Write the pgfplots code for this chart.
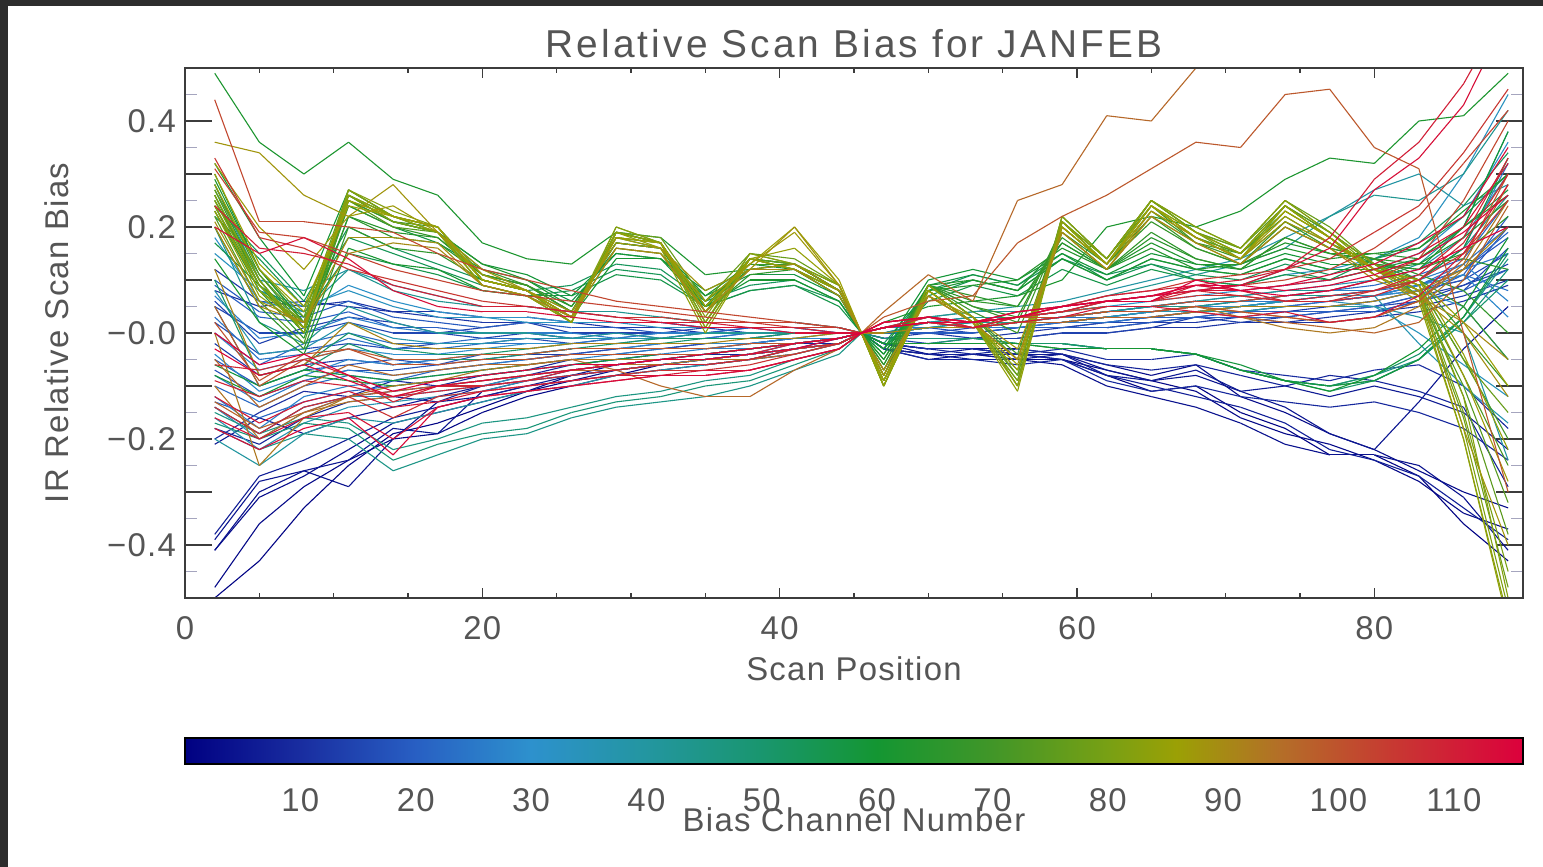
\documentclass[border=0pt]{standalone}
\usepackage{fontspec}
\setmainfont{Liberation Sans}[LetterSpace=4]
\newfontfamily\titlefont{Liberation Sans}[LetterSpace=8]
\usepackage{pgfplots}
\usepackage{pgfplotstable}
\pgfplotsset{compat=1.18}
\definecolor{txtgray}{RGB}{85,85,85}
\definecolor{axgray}{RGB}{60,60,60}
\definecolor{mintick}{RGB}{165,165,190}
\definecolor{bgdark}{RGB}{45,45,45}
\pgfplotsset{
  /pgf/number format/assume math mode=true,
  colormap={scanbias}{rgb255(0cm)=(0,0,130) rgb255(10cm)=(25,45,160) rgb255(20cm)=(40,95,195) rgb255(30cm)=(45,145,205) rgb255(40cm)=(35,150,160) rgb255(50cm)=(25,150,110) rgb255(60cm)=(20,150,50) rgb255(70cm)=(65,150,40) rgb255(80cm)=(120,160,20) rgb255(86cm)=(155,160,5) rgb255(95cm)=(180,110,40) rgb255(105cm)=(200,55,50) rgb255(116cm)=(220,0,60)},
}
\pgfplotstableread{
ch 2 5 8 11 14 17 20 23 26 29 32 35 38 41 44 45.5 47 50 53 56 59 62 65 68 71 74 77 80 83 86 89
c1 -0.50 -0.43 -0.33 -0.25 -0.19 -0.17 -0.14 -0.11 -0.09 -0.08 -0.06 -0.05 -0.05 -0.03 -0.02 0 -0.02 -0.03 -0.03 -0.04 -0.05 -0.08 -0.11 -0.10 -0.15 -0.18 -0.23 -0.23 -0.27 -0.36 -0.43
c2 -0.48 -0.36 -0.29 -0.24 -0.20 -0.19 -0.15 -0.12 -0.10 -0.08 -0.07 -0.06 -0.05 -0.04 -0.02 0 -0.03 -0.04 -0.04 -0.05 -0.05 -0.07 -0.09 -0.11 -0.16 -0.19 -0.21 -0.24 -0.28 -0.34 -0.37
c3 -0.41 -0.31 -0.27 -0.22 -0.17 -0.15 -0.13 -0.11 -0.08 -0.07 -0.06 -0.05 -0.04 -0.03 -0.02 0 -0.02 -0.03 -0.03 -0.03 -0.04 -0.06 -0.08 -0.06 -0.12 -0.15 -0.19 -0.22 -0.26 -0.30 -0.33
c4 -0.41 -0.30 -0.26 -0.29 -0.20 -0.13 -0.12 -0.10 -0.09 -0.07 -0.06 -0.06 -0.05 -0.03 -0.02 0 -0.03 -0.05 -0.04 -0.05 -0.06 -0.10 -0.12 -0.14 -0.17 -0.21 -0.23 -0.23 -0.25 -0.31 -0.41
c5 -0.39 -0.28 -0.26 -0.24 -0.18 -0.19 -0.11 -0.09 -0.08 -0.06 -0.05 -0.05 -0.04 -0.03 -0.01 0 -0.02 -0.04 -0.03 -0.04 -0.04 -0.07 -0.09 -0.08 -0.11 -0.14 -0.19 -0.22 -0.13 -0.03 0.05
c6 -0.21 -0.16 -0.19 -0.16 -0.14 -0.12 -0.10 -0.09 -0.07 -0.06 -0.05 -0.05 -0.04 -0.03 -0.02 0 -0.03 -0.04 -0.05 -0.05 -0.04 -0.08 -0.09 -0.07 -0.11 -0.10 -0.12 -0.10 -0.12 -0.15 -0.22
c7 -0.38 -0.27 -0.24 -0.20 -0.16 -0.14 -0.12 -0.10 -0.08 -0.07 -0.06 -0.05 -0.04 -0.03 -0.02 0 -0.03 -0.04 -0.04 -0.04 -0.05 -0.08 -0.10 -0.12 -0.14 -0.17 -0.22 -0.24 -0.27 -0.33 -0.39
c8 -0.18 -0.21 -0.16 -0.13 -0.12 -0.13 -0.10 -0.08 -0.07 -0.06 -0.05 -0.04 -0.04 -0.02 -0.02 0 -0.02 -0.03 -0.04 -0.03 -0.04 -0.06 -0.07 -0.06 -0.08 -0.10 -0.08 -0.09 -0.11 -0.14 -0.29
c9 -0.14 -0.19 -0.14 -0.12 -0.11 -0.10 -0.09 -0.08 -0.06 -0.05 -0.05 -0.04 -0.03 -0.02 -0.01 0 -0.03 -0.05 -0.05 -0.06 -0.05 -0.09 -0.11 -0.10 -0.12 -0.13 -0.14 -0.13 -0.15 -0.18 -0.24
c10 -0.20 -0.15 -0.11 -0.12 -0.09 -0.10 -0.08 -0.07 -0.05 -0.05 -0.04 -0.04 -0.03 -0.02 -0.01 0 -0.02 -0.03 -0.03 -0.04 -0.03 -0.05 -0.05 -0.04 -0.07 -0.08 -0.09 -0.07 -0.06 -0.10 -0.18
c11 0.08 0.05 0.06 0.05 0.04 0.04 0.03 0.03 0.02 0.02 0.02 0.01 0.01 0.01 0.00 0 -0.01 -0.01 -0.01 -0.01 0.00 0.00 0.01 0.01 0.02 0.02 0.02 0.03 0.04 0.06 0.09
c12 0.12 0.06 0.05 0.06 0.04 0.03 0.02 0.02 0.02 0.01 0.01 0.00 0.01 0.01 0.01 0 -0.01 0.00 -0.01 0.00 0.01 0.01 0.02 0.02 0.03 0.02 0.03 0.04 0.05 0.07 0.10
c13 -0.02 -0.08 -0.06 -0.05 -0.06 -0.05 -0.05 -0.04 -0.04 -0.03 -0.03 -0.02 -0.02 -0.01 -0.01 0 0.00 0.00 0.00 0.01 0.01 0.02 0.03 0.03 0.04 0.04 0.05 0.05 0.07 0.09 0.13
c14 0.06 -0.02 0.01 0.03 0.02 0.00 0.01 0.02 0.00 0.00 0.00 0.01 0.00 0.00 0.00 0 -0.01 -0.02 -0.01 -0.01 0.00 0.00 0.01 0.03 0.02 0.03 0.04 0.04 0.06 0.09 0.12
c15 0.05 0.00 0.00 0.02 0.00 0.00 -0.01 0.00 -0.01 -0.01 -0.01 0.00 0.00 0.00 0.00 0 0.00 0.00 0.01 0.01 0.01 0.02 0.02 0.03 0.03 0.04 0.04 0.05 0.06 0.08 0.16
c16 0.02 -0.04 -0.03 -0.02 -0.03 -0.02 -0.02 -0.01 -0.02 -0.01 -0.01 -0.01 -0.01 0.00 0.00 0 0.00 0.01 0.00 0.01 0.02 0.03 0.03 0.04 0.04 0.05 0.05 0.06 0.08 0.10 0.15
c17 -0.07 -0.12 -0.09 -0.07 -0.07 -0.06 -0.05 -0.05 -0.04 -0.03 -0.03 -0.02 -0.02 -0.01 -0.01 0 0.01 0.01 0.01 0.02 0.02 0.03 0.04 0.04 0.05 0.05 0.06 0.07 0.08 0.10 0.20
c18 -0.05 -0.10 -0.07 -0.06 -0.05 -0.06 -0.04 -0.04 -0.03 -0.03 -0.02 -0.02 -0.02 -0.01 -0.01 0 0.00 0.01 0.01 0.02 0.02 0.03 0.04 0.05 0.05 0.06 0.06 0.07 0.09 0.12 0.18
c19 0.10 0.04 0.03 0.06 0.03 0.02 0.01 0.02 0.01 0.01 0.00 0.00 0.01 0.00 0.00 0 0.00 0.00 0.00 0.01 0.01 0.01 0.02 0.03 0.03 0.03 0.04 0.04 0.06 0.08 0.12
c20 0.09 0.03 0.02 0.04 0.01 0.01 0.00 0.00 -0.01 0.00 -0.01 -0.01 0.00 0.00 0.00 0 0.00 0.01 0.01 0.01 0.02 0.02 0.03 0.03 0.04 0.04 0.04 0.05 0.07 0.11 0.22
c21 -0.13 -0.16 -0.13 -0.11 -0.10 -0.09 -0.08 -0.07 -0.06 -0.05 -0.04 -0.04 -0.03 -0.02 -0.01 0 0.01 0.02 0.02 0.03 0.03 0.04 0.05 0.05 0.06 0.07 0.07 0.08 0.09 0.12 0.19
c22 -0.10 -0.14 -0.10 -0.08 -0.09 -0.07 -0.06 -0.05 -0.04 -0.04 -0.03 -0.03 -0.02 -0.02 -0.01 0 0.01 0.02 0.01 0.02 0.03 0.04 0.05 0.06 0.06 0.07 0.08 0.09 0.11 0.14 0.25
c23 0.00 -0.06 -0.02 0.00 -0.02 -0.02 -0.01 -0.01 -0.01 -0.01 0.00 0.00 0.00 0.00 0.00 0 0.00 0.01 0.01 0.02 0.02 0.03 0.03 0.04 0.05 0.05 0.06 0.07 0.09 0.13 0.20
c24 0.03 -0.05 -0.04 -0.01 -0.03 -0.03 -0.02 -0.02 -0.02 -0.01 -0.01 -0.01 0.00 0.00 0.00 0 0.00 0.01 0.01 0.01 0.02 0.02 0.03 0.04 0.04 0.05 0.05 0.06 0.08 0.11 0.08
c25 -0.08 -0.13 -0.09 -0.07 -0.08 -0.07 -0.06 -0.05 -0.04 -0.04 -0.03 -0.03 -0.02 -0.02 -0.01 0 0.01 0.01 0.02 0.02 0.03 0.03 0.04 0.05 0.05 0.06 0.06 0.07 0.09 0.12 0.15
c26 0.07 -0.01 0.00 0.03 0.01 0.00 0.00 0.00 0.00 -0.01 0.00 0.00 0.00 0.00 0.00 0 0.00 0.02 0.02 0.02 0.03 0.04 0.05 0.05 0.06 0.06 0.07 0.08 0.10 0.16 0.32
c27 -0.12 -0.18 -0.12 -0.10 -0.09 -0.08 -0.07 -0.06 -0.05 -0.04 -0.04 -0.03 -0.03 -0.02 -0.01 0 0.01 0.02 0.02 0.03 0.03 0.04 0.05 0.06 0.06 0.07 0.08 0.08 0.10 0.13 0.06
c28 -0.04 -0.11 -0.08 -0.05 -0.06 -0.05 -0.04 -0.04 -0.03 -0.03 -0.02 -0.02 -0.02 -0.01 -0.01 0 0.01 0.02 0.02 0.02 0.03 0.04 0.04 0.05 0.05 0.06 0.07 0.07 0.09 0.11 0.03
c30 0.00 -0.07 -0.05 -0.03 -0.04 -0.04 -0.03 -0.02 -0.02 -0.02 -0.01 -0.01 -0.01 0.00 0.00 0 0.00 0.01 0.02 0.02 0.03 0.04 0.04 0.05 0.05 0.06 0.06 0.07 0.08 0.05 -0.05
c31 0.18 0.06 0.04 0.09 0.06 0.04 0.03 0.03 0.02 0.02 0.02 0.01 0.01 0.01 0.01 0 0.01 0.02 0.02 0.03 0.04 0.05 0.06 0.07 0.08 0.09 0.10 0.12 0.15 0.22 0.36
c33 0.15 0.08 0.05 0.08 0.05 0.03 0.03 0.02 0.02 0.02 0.01 0.01 0.01 0.01 0.00 0 0.01 0.02 0.03 0.03 0.04 0.06 0.07 0.08 0.09 0.11 0.12 0.14 0.18 0.30 0.45
c34 -0.14 -0.20 -0.15 -0.12 -0.12 -0.11 -0.10 -0.08 -0.07 -0.06 -0.05 -0.05 -0.04 -0.03 -0.02 0 0.00 0.01 0.01 0.02 0.02 0.03 0.04 0.04 0.05 0.06 0.06 0.05 0.00 -0.06 -0.12
c36 -0.16 -0.22 -0.17 -0.14 -0.13 -0.12 -0.11 -0.09 -0.08 -0.07 -0.06 -0.05 -0.04 -0.03 -0.02 0 0.00 0.01 0.01 0.02 0.02 0.03 0.04 0.04 0.05 0.06 0.07 0.07 -0.02 -0.10 -0.17
c37 0.08 -0.04 -0.03 0.02 -0.01 -0.02 -0.02 -0.01 -0.01 -0.01 -0.01 0.00 0.00 0.00 0.00 0 0.01 0.02 0.03 0.03 0.04 0.05 0.05 0.06 0.07 0.08 0.09 0.10 0.12 0.18 0.30
c39 0.28 0.10 0.08 0.12 0.09 0.07 0.05 0.05 0.04 0.03 0.03 0.02 0.02 0.02 0.01 0 0.01 0.03 0.04 0.05 0.06 0.08 0.10 0.12 0.14 0.18 0.22 0.27 0.30 0.24 0.28
c40 -0.20 -0.25 -0.19 -0.16 -0.17 -0.15 -0.13 -0.11 -0.10 -0.08 -0.07 -0.06 -0.05 -0.04 -0.02 0 0.00 0.01 0.01 0.02 0.02 0.03 0.03 0.04 0.04 0.05 0.05 0.05 0.03 0.00 -0.24
c42 0.20 0.02 -0.02 0.05 0.02 0.00 0.00 0.00 -0.01 0.00 -0.01 0.00 0.00 0.00 0.00 0 0.00 0.02 0.03 0.03 0.04 0.05 0.05 0.06 0.07 0.08 0.08 0.10 0.13 0.20 0.38
c43 0.24 0.08 0.04 0.12 0.08 0.06 0.05 0.05 0.04 0.04 0.03 0.02 0.02 0.02 0.01 0 0.01 0.03 0.04 0.04 0.05 0.07 0.09 0.11 0.13 0.16 0.22 0.26 0.25 0.30 0.42
c45 -0.18 -0.22 -0.19 -0.20 -0.26 -0.23 -0.20 -0.19 -0.16 -0.14 -0.13 -0.12 -0.10 -0.07 -0.04 0 0.00 0.01 0.02 0.02 0.03 0.04 0.05 0.05 0.06 0.07 0.07 0.08 0.10 0.16 0.26
c46 -0.15 -0.19 -0.16 -0.17 -0.22 -0.20 -0.17 -0.16 -0.14 -0.12 -0.11 -0.09 -0.08 -0.05 -0.03 0 -0.01 -0.01 -0.01 -0.02 -0.02 -0.03 -0.03 -0.04 -0.07 -0.09 -0.10 -0.08 -0.05 0.03 0.14
c48 -0.17 -0.20 -0.17 -0.18 -0.24 -0.21 -0.19 -0.18 -0.15 -0.13 -0.12 -0.10 -0.09 -0.06 -0.03 0 -0.01 -0.01 -0.01 -0.02 -0.02 -0.03 -0.03 -0.04 -0.07 -0.09 -0.10 -0.09 -0.05 0.02 0.12
c50 0.05 -0.10 -0.07 -0.02 -0.05 -0.05 -0.05 -0.04 -0.03 -0.02 -0.02 -0.01 -0.01 -0.01 0.00 0 -0.02 -0.02 -0.02 -0.02 -0.02 -0.03 -0.03 -0.04 -0.07 -0.09 -0.11 -0.09 -0.05 0.02 0.10
c51 0.10 -0.08 -0.06 0.00 -0.03 -0.04 -0.04 -0.03 -0.02 -0.02 -0.01 -0.01 -0.01 0.00 0.00 0 -0.02 -0.02 -0.01 -0.02 -0.02 -0.03 -0.03 -0.04 -0.07 -0.09 -0.10 -0.08 -0.04 0.03 0.15
c53 0.24 0.15 0.06 0.20 0.16 0.13 0.10 0.08 0.09 0.13 0.12 0.06 0.09 0.10 0.06 0 -0.02 0.08 0.11 0.09 0.14 0.11 0.13 0.11 0.10 0.13 0.11 0.14 0.17 0.24 0.34
c54 0.22 0.14 0.05 0.18 0.15 0.12 0.09 0.07 0.08 0.12 0.11 0.05 0.08 0.09 0.06 0 -0.03 0.07 0.10 0.08 0.14 0.10 0.13 0.10 0.09 0.12 0.10 0.14 0.16 0.22 0.30
c56 0.17 0.09 0.03 0.15 0.13 0.11 0.08 0.07 0.07 0.11 0.10 0.05 0.08 0.09 0.05 0 -0.03 0.06 0.09 0.07 0.12 0.09 0.12 0.10 0.09 0.11 0.10 0.12 0.14 0.20 0.27
c57 0.30 0.12 0.02 0.24 0.20 0.17 0.12 0.10 0.06 0.15 0.14 0.07 0.11 0.11 0.07 0 -0.04 0.09 0.11 0.09 0.15 0.10 0.14 0.12 0.11 0.14 0.12 0.12 0.10 0.16 0.33
c58 -0.06 -0.10 -0.07 -0.08 -0.09 -0.08 -0.07 -0.06 -0.05 -0.05 -0.04 -0.04 -0.03 -0.02 -0.01 0 -0.02 -0.02 -0.02 -0.02 -0.03 -0.03 -0.03 -0.04 -0.06 -0.09 -0.10 -0.09 -0.05 0.03 0.16
c59 0.32 0.18 0.07 0.27 0.22 0.19 0.13 0.11 0.07 0.15 0.14 0.08 0.12 0.12 0.07 0 -0.03 0.10 0.12 0.10 0.15 0.11 0.15 0.13 0.12 0.15 0.13 0.13 0.12 0.20 0.38
c60 -0.08 -0.12 -0.08 -0.09 -0.10 -0.09 -0.08 -0.07 -0.06 -0.05 -0.05 -0.04 -0.03 -0.02 -0.01 0 -0.02 -0.02 -0.02 -0.02 -0.03 -0.03 -0.03 -0.04 -0.07 -0.09 -0.11 -0.08 -0.03 0.05 0.18
c61 0.14 0.02 -0.04 0.16 0.13 0.12 0.08 0.07 0.03 0.14 0.14 0.05 0.10 0.10 0.06 0 -0.04 0.08 0.10 0.08 0.14 0.10 0.14 0.12 0.11 0.14 0.12 0.12 0.13 0.18 0.25
c62 0.49 0.36 0.30 0.36 0.29 0.26 0.17 0.14 0.13 0.19 0.18 0.11 0.12 0.13 0.08 0 0.02 0.05 0.06 0.07 0.10 0.20 0.22 0.20 0.23 0.29 0.33 0.32 0.40 0.41 0.49
c63 0.29 0.12 0.02 0.26 0.21 0.19 0.13 0.10 0.05 0.17 0.16 0.07 0.13 0.12 0.07 0 -0.05 0.09 0.10 0.08 0.17 0.12 0.17 0.13 0.13 0.17 0.15 0.15 0.16 0.23 0.30
c64 0.26 0.09 0.00 0.22 0.19 0.18 0.11 0.09 0.05 0.16 0.15 0.06 0.12 0.12 0.07 0 -0.05 0.08 0.09 0.10 0.16 0.12 0.16 0.12 0.13 0.16 0.14 0.15 0.14 0.20 0.26
c65 0.23 0.08 -0.01 0.22 0.18 0.17 0.11 0.09 0.04 0.17 0.16 0.05 0.12 0.13 0.08 0 -0.06 0.09 0.07 0.05 0.17 0.12 0.18 0.14 0.12 0.18 0.15 0.14 0.13 0.14 0.12
c66 0.20 0.05 -0.03 0.20 0.16 0.15 0.10 0.08 0.04 0.17 0.16 0.04 0.11 0.12 0.08 0 -0.06 0.09 0.06 0.05 0.18 0.12 0.19 0.14 0.12 0.18 0.15 0.13 0.12 0.15 0.22
c67 0.27 0.10 0.00 0.24 0.20 0.18 0.11 0.09 0.04 0.18 0.17 0.05 0.13 0.13 0.08 0 -0.07 0.09 0.05 0.03 0.19 0.13 0.21 0.16 0.13 0.20 0.16 0.14 0.11 0.08 0.00
c68 0.28 0.11 0.01 0.25 0.21 0.19 0.12 0.09 0.04 0.18 0.16 0.06 0.13 0.13 0.08 0 -0.07 0.09 0.05 0.02 0.20 0.13 0.22 0.16 0.13 0.21 0.16 0.14 0.10 0.05 -0.05
c69 0.26 0.10 0.00 0.25 0.21 0.19 0.11 0.09 0.04 0.18 0.17 0.05 0.14 0.13 0.08 0 -0.08 0.09 0.04 0.00 0.20 0.13 0.23 0.17 0.14 0.21 0.17 0.13 0.10 0.00 -0.10
c71 0.25 0.10 0.00 0.26 0.21 0.20 0.10 0.08 0.03 0.19 0.17 0.05 0.14 0.13 0.08 0 -0.08 0.09 0.03 -0.04 0.21 0.13 0.24 0.17 0.15 0.22 0.17 0.12 0.09 -0.05 -0.20
c72 0.24 0.09 0.01 0.26 0.22 0.20 0.10 0.08 0.03 0.19 0.17 0.04 0.14 0.13 0.08 0 -0.08 0.09 0.03 -0.05 0.21 0.13 0.24 0.18 0.15 0.23 0.18 0.12 0.08 -0.08 -0.25
c74 0.22 0.06 -0.02 0.25 0.20 0.19 0.09 0.07 0.02 0.19 0.17 0.02 0.14 0.12 0.08 0 -0.09 0.08 0.02 -0.07 0.21 0.14 0.24 0.18 0.15 0.24 0.19 0.13 0.07 -0.10 -0.32
c75 0.25 0.11 0.02 0.26 0.22 0.20 0.10 0.08 0.03 0.19 0.17 0.04 0.14 0.13 0.09 0 -0.09 0.08 0.02 -0.08 0.22 0.14 0.25 0.19 0.16 0.24 0.19 0.13 0.08 -0.12 -0.38
c77 0.27 0.12 0.03 0.27 0.22 0.20 0.11 0.08 0.03 0.19 0.18 0.06 0.15 0.14 0.09 0 -0.09 0.09 0.03 -0.08 0.22 0.14 0.25 0.19 0.16 0.25 0.20 0.13 0.09 -0.05 -0.15
c78 0.23 0.09 0.02 0.26 0.21 0.19 0.10 0.08 0.02 0.19 0.17 0.02 0.14 0.12 0.08 0 -0.10 0.08 0.02 -0.09 0.21 0.14 0.25 0.19 0.15 0.24 0.18 0.12 0.07 -0.16 -0.48
c80 0.24 0.08 0.02 0.26 0.21 0.19 0.10 0.08 0.02 0.19 0.17 0.01 0.14 0.12 0.08 0 -0.10 0.08 0.02 -0.09 0.20 0.13 0.25 0.19 0.14 0.24 0.18 0.12 0.08 -0.15 -0.45
c81 0.25 0.09 0.01 0.27 0.22 0.20 0.10 0.08 0.02 0.20 0.17 0.02 0.15 0.13 0.09 0 -0.10 0.09 0.03 -0.10 0.21 0.14 0.25 0.20 0.16 0.25 0.19 0.12 0.08 -0.18 -0.52
c82 0.26 0.10 0.00 0.27 0.23 0.20 0.10 0.08 0.03 0.20 0.17 0.03 0.15 0.13 0.09 0 -0.10 0.09 0.03 -0.10 0.22 0.14 0.25 0.20 0.16 0.25 0.19 0.13 0.09 -0.12 -0.50
c83 0.24 0.08 0.01 0.26 0.22 0.19 0.09 0.07 0.02 0.19 0.17 0.01 0.14 0.12 0.08 0 -0.10 0.08 0.02 -0.10 0.21 0.13 0.24 0.19 0.15 0.24 0.18 0.11 0.07 -0.20 -0.54
c84 0.23 0.07 0.01 0.25 0.22 0.19 0.09 0.07 0.02 0.19 0.16 0.00 0.14 0.12 0.08 0 -0.10 0.08 0.02 -0.11 0.21 0.13 0.24 0.19 0.15 0.24 0.18 0.11 0.06 -0.20 -0.55
c85 0.28 0.12 0.04 0.25 0.22 0.20 0.10 0.08 0.03 0.18 0.17 0.04 0.14 0.16 0.09 0 -0.09 0.08 0.02 -0.07 0.20 0.13 0.24 0.18 0.14 0.23 0.18 0.12 0.10 -0.04 -0.22
c86 0.30 0.13 0.05 0.24 0.22 0.20 0.10 0.08 0.03 0.18 0.17 0.05 0.13 0.20 0.10 0 -0.09 0.07 0.02 -0.06 0.20 0.13 0.24 0.18 0.14 0.23 0.18 0.12 0.10 0.02 -0.10
c87 0.32 0.20 0.12 0.22 0.24 0.19 0.11 0.08 0.03 0.18 0.16 0.06 0.13 0.19 0.09 0 -0.08 0.07 0.02 -0.05 0.20 0.13 0.23 0.18 0.14 0.22 0.17 0.12 0.09 -0.08 -0.28
c88 0.36 0.34 0.26 0.22 0.28 0.19 0.12 0.08 0.04 0.17 0.16 0.08 0.12 0.20 0.09 0 -0.08 0.07 0.03 -0.03 0.19 0.12 0.23 0.18 0.14 0.21 0.17 0.12 0.08 -0.18 -0.40
c89 0.21 0.06 0.02 0.18 0.18 0.17 0.09 0.07 0.03 0.16 0.15 0.04 0.12 0.13 0.08 0 -0.07 0.07 0.02 -0.05 0.19 0.12 0.22 0.17 0.13 0.20 0.16 0.11 0.07 0.00 -0.12
c90 0.20 0.05 0.02 0.15 0.17 0.16 0.09 0.07 0.03 0.16 0.15 0.04 0.12 0.12 0.07 0 -0.07 0.07 0.02 -0.05 0.19 0.12 0.22 0.17 0.13 0.20 0.16 0.10 0.07 0.02 -0.05
c91 0.12 -0.08 -0.06 0.02 -0.02 -0.03 -0.03 -0.03 -0.02 -0.02 -0.02 -0.02 -0.01 -0.01 0.00 0 0.00 0.01 0.01 0.02 0.02 0.03 0.03 0.04 0.05 0.05 0.05 0.06 0.08 0.12 0.20
c93 0.00 -0.25 -0.16 -0.12 -0.10 -0.09 -0.07 -0.06 -0.05 -0.05 -0.05 -0.05 -0.04 -0.03 -0.02 0 0.01 0.02 0.01 0.02 0.03 0.04 0.04 0.05 0.03 0.01 0.00 0.01 0.05 0.12 0.25
c94 -0.10 -0.20 -0.15 -0.13 -0.12 -0.10 -0.09 -0.08 -0.07 -0.06 -0.06 -0.05 -0.05 -0.03 -0.02 0 0.01 0.02 0.02 0.03 0.03 0.04 0.04 0.05 0.04 0.03 0.02 0.03 0.06 0.13 0.28
c96 -0.05 -0.14 -0.10 -0.06 -0.08 -0.07 -0.06 -0.06 -0.05 -0.07 -0.10 -0.12 -0.12 -0.07 -0.03 0 0.04 0.11 0.06 0.25 0.28 0.41 0.40 0.50 0.60 0.65 0.70 0.70 0.70 0.70 0.70
c97 -0.13 -0.18 -0.15 -0.12 -0.11 -0.10 -0.09 -0.08 -0.07 -0.07 -0.06 -0.06 -0.05 -0.04 -0.02 0 0.01 0.02 0.01 0.02 0.02 0.03 0.03 0.04 0.03 0.02 0.01 0.00 0.02 0.10 0.24
c99 0.05 -0.10 -0.05 -0.03 -0.05 -0.05 -0.04 -0.04 -0.03 -0.03 -0.03 -0.03 -0.02 -0.02 -0.01 0 0.03 0.06 0.07 0.17 0.22 0.26 0.31 0.36 0.35 0.45 0.46 0.35 0.31 0.00 -0.30
c100 0.02 -0.09 -0.04 -0.03 -0.06 -0.06 -0.05 -0.05 -0.04 -0.04 -0.04 -0.04 -0.03 -0.02 -0.01 0 0.01 0.02 0.02 0.03 0.03 0.04 0.04 0.05 0.04 0.03 0.02 0.03 0.06 0.14 0.30
c102 0.44 0.21 0.21 0.20 0.19 0.15 0.12 0.10 0.08 0.06 0.05 0.04 0.03 0.02 0.01 0 0.01 0.02 0.01 0.03 0.04 0.05 0.05 0.06 0.06 0.07 0.08 0.10 0.14 0.25 0.40
c103 0.31 0.19 0.18 0.15 0.12 0.10 0.08 0.07 0.06 0.05 0.04 0.03 0.02 0.02 0.01 0 0.01 0.02 0.02 0.03 0.04 0.06 0.07 0.08 0.09 0.10 0.12 0.16 0.22 0.32 0.42
c105 0.33 0.18 0.16 0.12 0.10 0.08 0.06 0.05 0.04 0.03 0.03 0.02 0.02 0.01 0.01 0 0.02 0.03 0.02 0.04 0.05 0.07 0.08 0.10 0.11 0.12 0.14 0.19 0.24 0.34 0.46
c106 -0.14 -0.19 -0.14 -0.12 -0.16 -0.12 -0.11 -0.10 -0.09 -0.08 -0.07 -0.07 -0.06 -0.04 -0.02 0 0.02 0.03 0.02 0.03 0.04 0.06 0.06 0.07 0.07 0.06 0.06 0.08 0.10 0.15 0.25
c108 -0.06 -0.07 -0.05 -0.08 -0.13 -0.10 -0.10 -0.09 -0.07 -0.06 -0.05 -0.05 -0.04 -0.02 -0.01 0 0.01 0.03 0.01 0.03 0.05 0.06 0.06 0.08 0.07 0.06 0.06 0.07 0.10 0.17 0.30
c109 -0.09 -0.12 -0.09 -0.10 -0.12 -0.11 -0.10 -0.09 -0.08 -0.07 -0.06 -0.06 -0.05 -0.03 -0.02 0 0.01 0.03 0.01 0.03 0.04 0.06 0.06 0.09 0.08 0.06 0.07 0.08 0.11 0.18 0.33
c110 0.24 0.16 0.15 0.13 0.09 0.07 0.05 0.05 0.04 0.03 0.02 0.02 0.01 0.01 0.00 0 0.01 0.02 0.02 0.03 0.05 0.07 0.08 0.09 0.10 0.12 0.18 0.29 0.36 0.47 0.62
c111 -0.12 -0.17 -0.13 -0.11 -0.14 -0.13 -0.11 -0.10 -0.09 -0.08 -0.08 -0.07 -0.07 -0.05 -0.03 0 0.01 0.02 0.01 0.02 0.03 0.05 0.05 0.04 0.03 0.04 0.02 0.03 0.07 0.15 0.28
c112 -0.16 -0.20 -0.16 -0.15 -0.20 -0.14 -0.12 -0.11 -0.10 -0.09 -0.08 -0.08 -0.07 -0.05 -0.03 0 0.02 0.03 0.02 0.03 0.05 0.06 0.07 0.08 0.08 0.09 0.10 0.12 0.15 0.20 0.32
c113 0.20 0.15 0.18 0.14 0.08 0.05 0.04 0.04 0.03 0.02 0.02 0.01 0.01 0.00 0.00 0 0.01 0.02 0.02 0.03 0.05 0.06 0.07 0.08 0.09 0.12 0.16 0.27 0.33 0.43 0.60
c114 -0.18 -0.22 -0.18 -0.16 -0.23 -0.14 -0.12 -0.11 -0.10 -0.09 -0.08 -0.08 -0.07 -0.05 -0.03 0 0.02 0.03 0.02 0.04 0.05 0.06 0.07 0.09 0.08 0.09 0.11 0.13 0.17 0.22 0.35
c115 -0.03 -0.08 -0.06 -0.09 -0.12 -0.10 -0.09 -0.08 -0.07 -0.06 -0.05 -0.05 -0.04 -0.03 -0.01 0 0.02 0.03 0.02 0.04 0.05 0.06 0.07 0.09 0.09 0.08 0.09 0.11 0.14 0.19 0.26
c116 0.00 -0.06 -0.04 -0.08 -0.11 -0.09 -0.08 -0.07 -0.06 -0.06 -0.05 -0.04 -0.03 -0.02 -0.01 0 0.01 0.02 0.02 0.03 0.05 0.06 0.06 0.10 0.08 0.07 0.08 0.10 0.12 0.16 0.20
}\rawdata
\pgfplotstabletranspose[colnames from=ch]\scandata\rawdata
\begin{document}
\begin{tikzpicture}
\fill[bgdark] (0,0) rectangle (771.5bp,433.5bp);
\fill[white] (4bp,0) rectangle (771.5bp,430.5bp);
\begin{axis}[
  at={(92.5bp,134.5bp)}, anchor=south west,
  scale only axis, width=669bp, height=265bp,
  xmin=0, xmax=90, ymin=-0.5, ymax=0.5,
  xtick=\empty,
  ytick={-0.5,-0.4,-0.3,-0.2,-0.1,0,0.1,0.2,0.3,0.4,0.5},
  yticklabels={,−0.4,,−0.2,,−0.0,,0.2,,0.4,},
  minor ytick={-0.45,-0.35,-0.25,-0.15,-0.05,0.05,0.15,0.25,0.35,0.45},
  major tick length=13.5bp, minor tick length=6bp,
  tick align=inside,
  major tick style={axgray, line width=0.6pt},
  minor tick style={mintick, line width=0.8pt},
  axis line style={axgray, line width=0.7pt},
  yticklabel style={anchor=east, xshift=-1bp, text=txtgray, font=\fontsize{16.5}{19}\selectfont},
  ylabel={IR Relative Scan Bias},
  ylabel style={at={(-0.0957,0.5)}, anchor=center, text=txtgray, font=\fontsize{16.5}{19}\selectfont},
  title={Relative Scan Bias for JANFEB},
  title style={at={(0.5,1)}, anchor=base, yshift=-0.5bp, text=txtgray, font=\titlefont\fontsize{19.5}{22}\selectfont},
  colormap name=scanbias,
  point meta min=0, point meta max=116,
  colorbar horizontal,
  colorbar style={
    at={(0,-0.26415)}, anchor=north west,
    scale only axis, width=669bp, height=13bp,
    xtick={10,20,...,110},
    xtick style={draw=none},
    major tick length=0pt,
    axis line style={black, line width=0.6pt},
    xticklabel style={anchor=base, yshift=-24bp, text=txtgray, font=\fontsize{16.5}{19}\selectfont},
    xlabel={Bias Channel Number},
    xlabel style={at={(0.5,0)}, anchor=base, yshift=-34bp, text=txtgray, font=\fontsize{16.5}{19}\selectfont},
  },
]
\pgfplotsinvokeforeach{1,2,3,4,5,6,7,8,9,10,11,12,13,14,15,16,17,18,19,20,21,22,23,24,25,26,27,28,30,31,33,34,36,37,39,40,42,43,45,46,48,50,51,53,54,56,57,58,59,60,61,62,63,64,65,66,67,68,69,71,72,74,75,77,78,80,81,82,83,84,85,86,87,88,89,90,91,93,94,96,97,99,100,102,103,105,106,108,109,110,111,112,113,114,115,116}{
  \addplot[mesh, point meta=#1, line width=0.55pt] table[x=colnames, y=c#1] {\scandata};
}
\end{axis}
\begin{axis}[
  at={(92.5bp,134.5bp)}, anchor=south west,
  scale only axis, width=669bp, height=265bp,
  xmin=0, xmax=90, ymin=-0.5, ymax=0.5,
  ytick=\empty,
  xtick={0,20,40,60,80}, minor x tick num=3,
  major tick length=5bp, minor tick length=2.5bp,
  tick align=inside,
  major tick style={axgray, line width=0.6pt},
  minor tick style={axgray, line width=0.6pt},
  axis line style={axgray, line width=0.7pt},
  xticklabel style={anchor=base, yshift=-21bp, text=txtgray, font=\fontsize{16.5}{19}\selectfont},
  xlabel={Scan Position},
  xlabel style={at={(0.5,0)}, anchor=base, yshift=-41bp, text=txtgray, font=\fontsize{16.5}{19}\selectfont},
]
\end{axis}
\end{tikzpicture}
\end{document}
